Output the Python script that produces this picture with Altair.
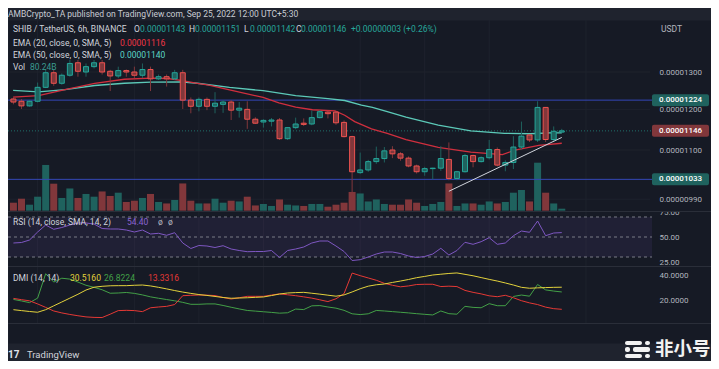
import altair as alt
import pandas as pd

FONT = "Roboto"
CJK = "Noto Sans CJK SC"

# ---------------- data (prices in units of 1e-8 USDT), 6h candles from Sep 8 06:00 ----------------
opens = [1227,1221,1209,1221,1258,1298,1269,1291,1326,1300,1315,1326,1302,1289,1304,1300,1291,1307,1281,1287,1281,1298,1224,1208,
         1226,1208,1213,1219,1198,1200,1175,1168,1170,1173,1127,1154,1165,1163,1179,1193,1193,1167,1132,1048,1054,1073,1080,
         1100,1091,1081,1063,1050,1057,1058,1078,1035,1050,1087,1073,1082,1101,1065,1071,1107,1136,1124,1205,1125,1143]
highs = [1231,1227,1224,1271,1307,1306,1296,1334,1334,1324,1334,1334,1306,1315,1307,1315,1324,1315,1293,1293,1306,1306,1231,1231,
         1231,1245,1224,1224,1219,1221,1180,1175,1178,1178,1155,1179,1177,1197,1198,1196,1196,1172,1134,1094,1077,1108,1107,
         1109,1095,1085,1066,1061,1059,1109,1118,1052,1091,1089,1085,1124,1106,1076,1133,1169,1138,1221,1205,1157,1151]
lows = [1213,1201,1207,1218,1256,1262,1265,1287,1287,1287,1310,1293,1248,1283,1287,1283,1283,1248,1278,1260,1278,1201,1190,1195,
        1198,1190,1191,1173,1179,1151,1163,1154,1157,1124,1124,1150,1158,1160,1177,1177,1161,1130,967,1045,1050,1068,1071,
        1081,1075,1060,1046,1041,1033,1052,1031,1031,1048,1060,1071,1078,1062,1051,1056,1101,1119,1119,1119,1119,1142]
closes = [1219,1209,1221,1258,1298,1269,1291,1324,1302,1315,1326,1300,1289,1304,1300,1291,1307,1281,1287,1281,1298,1224,1208,1226,
          1208,1216,1219,1198,1203,1175,1165,1172,1173,1127,1154,1163,1162,1179,1194,1189,1166,1132,1050,1054,1073,1080,1098,
          1091,1081,1063,1050,1057,1058,1080,1035,1050,1087,1073,1082,1101,1065,1071,1107,1133,1124,1205,1125,1145,1146]
volumes_b = [320,480,240,560,1830,1080,510,890,510,670,560,770,590,720,350,400,510,670,350,290,430,1090,400,290,
             290,480,320,400,370,560,210,270,190,450,240,210,190,270,270,160,240,320,750,690,370,450,270,
             240,240,450,320,190,270,350,1090,190,290,290,240,370,290,350,720,830,370,1920,720,290,80]
rsi_vals = [44,44.5,47,55,62,57.7,59.5,62,64,64,63,58.5,58,58,57,55,57,53,53.7,51.7,54.3,44,38.5,41.5,
            41,39.5,41.3,38,36.5,35.3,35.5,35.5,36.5,29.5,36.5,38,40,44,46,46,41,35.5,26.5,27.3,30,33,35,
            35,33.5,31,29.5,30.5,33,38.7,32,36.5,44.7,42.7,45.3,49.3,42.7,44,51.3,56,54.7,66,51.3,54,54.4]
dmi_yellow = [13,12.3,11.6,11,13,16,19,22,25,28.3,30.5,31.2,31.6,31.7,31.7,32,32.2,31.5,30.4,29.2,27.9,26.7,25.7,24.8,
              24.1,23.3,22.5,21.9,22.1,22.3,22.6,22.9,24,25.2,26,26.3,26.5,25.8,25.1,24.3,23.5,24.5,26.8,29.3,31.3,32.4,33,
              34.2,35.3,36.5,37.9,38.9,40,40.6,41.2,41.6,40.5,39.4,38,36.6,35.3,33.8,32.2,30.4,29.7,30,30.2,30.4,30.5]
dmi_green = [21,19.8,18.5,22,41,34.5,37.5,36.8,34.5,32,30.4,28.5,25.8,26,26.4,25.7,24.5,23,21.9,20.9,19.9,18.7,17.2,17.2,
             17.5,17.5,16.3,14.9,13.6,12.4,11.9,11.4,10.9,10.3,10.6,13.5,13.1,16,16.2,15.1,14.2,12.5,9.8,9.2,9.8,12.4,12,
             11.5,11,10.5,9.9,9.4,8.9,12,9.9,9.5,15.6,14.8,14.5,17.7,16.1,16.1,23.3,24.4,23.5,32.6,28.4,27.5,26.8]
dmi_red = [21.8,20.8,19.9,17.5,14.8,12,10.5,9.3,8.3,7.4,7.0,6.9,9.5,12.3,12.5,12.3,11.5,14.5,15.1,15.6,17,23.9,24.2,24.4,
           24.3,24,22.5,21.3,22.3,23.4,23.4,23.4,24.4,25.3,24.6,23.9,23,22,20.7,19.3,21.5,25.5,41.5,39.5,37.7,35.9,33.5,
           32,30.8,31.5,32.6,32.8,32.8,31,31.3,31,28,26.5,25.3,23.8,23.1,24.2,22.3,20,18.3,17,15,13.8,13.3]

ema20_days = [8.24,9.03,9.85,10.77,11.69,12.51,13.03,13.49,13.95,14.31,14.95,15.99,16.48,17.0,17.52,18.22,18.52,18.83,
              19.35,19.84,20.42,21.42,22.43,23.41,23.80,24.54,25.25]
ema20_vals = [1232,1236,1252,1269,1280,1283,1282,1276,1269,1264,1251,1231,1217,1206,1199,1196,1185,1169,
              1151,1140,1125,1106,1095,1089,1100,1111,1116]
ema50_days = [8.24,9.03,9.85,10.77,11.69,12.51,13.43,13.95,14.95,15.99,17.0,18.0,18.52,19.04,19.38,19.84,20.42,21.42,
              22.43,23.47,24.26,24.87,25.25]
ema50_vals = [1250,1246,1252,1263,1269,1272,1273,1269,1258,1249,1236,1228,1223,1211,1205,1194,1180,1160,
              1146,1140,1139,1141,1141]
trend_days = [21.75, 25.25]
trend_vals = [1007, 1130]
level_vals = [1224, 1033]
last_val = 1146
price_ticks = [990, 1100, 1200, 1300]
rsi_ticks = [25, 50, 75]
rsi_levels = [70, 50, 30]
dmi_ticks = [20, 40]
day_ticks = [9, 12, 14, 16, 19, 21, 23, 26]

E = 1e-8
N = len(opens)
candle_days = [8.25 + 0.25 * i for i in range(N)]

df = pd.DataFrame({
    "day": candle_days,
    "open": [v * E for v in opens],
    "high": [v * E for v in highs],
    "low": [v * E for v in lows],
    "close": [v * E for v in closes],
    "dir": ["up" if c >= o else "down" for o, c in zip(opens, closes)],
    "vol": volumes_b,
    "rsi": rsi_vals,
    "dy": dmi_yellow,
    "dg": dmi_green,
    "dr": dmi_red,
})

# ---------------- styling ----------------
OUTER = "#1f232e"
PANE = "#161a25"
GRID = "#1e222d"
SEP = "#2a2e39"
TXT = "#d1d4dc"
AX = "#b2b5be"
UP = "#26a69a"
DOWN = "#ef5350"

X = alt.Scale(domain=[8.237, 27.83], range=[0, 642], nice=False, zero=False)
PRICE = alt.Scale(type="log", domain=[990 * E, 1300 * E], range=[179.2, 52], nice=False)
VOL = alt.Scale(domain=[0, 2000], range=[190.7, 140.7], nice=False, zero=True)
RSI_S = alt.Scale(domain=[25, 75], range=[242, 192], nice=False, zero=False)
DMI_S = alt.Scale(domain=[20, 40], range=[280.7, 255], nice=False, zero=False)
CANDLE_COL = alt.Scale(domain=["up", "down"], range=[UP, DOWN])
VOL_COL = alt.Scale(domain=["up", "down"], range=["#1f625e", "#81373b"])


def yaxis(values, fmt):
    return alt.Axis(orient="right", values=values, format=fmt, offset=-61, labelPadding=9,
                    ticks=False, tickSize=0, domain=False, grid=False, labelColor=AX,
                    labelFontSize=8, labelFont=FONT, title=None)


X_AXIS = alt.Axis(orient="bottom", values=day_ticks, format="d", offset=-20, labelPadding=6,
                  ticks=False, tickSize=0, domain=False, grid=False, labelColor=AX,
                  labelFontSize=8.5, labelFont=FONT, labelFlush=False, title=None)


def xq(field):
    return alt.X(field, scale=X, axis=None)


def text(s, x, y, color=TXT, size=8.5, weight="normal", font=FONT, align="left"):
    return alt.Chart(pd.DataFrame({"t": [s]})).mark_text(
        align=align, baseline="middle", color=color, fontSize=size, fontWeight=weight, font=font
    ).encode(x=alt.value(x), y=alt.value(y), text="t:N")


def box(x1, x2, y1, y2, color, radius=0):
    return alt.Chart(pd.DataFrame({"a": [0]})).mark_rect(color=color, cornerRadius=radius).encode(
        x=alt.value(x1), x2=alt.value(x2), y=alt.value(y1), y2=alt.value(y2))


def hline(y, color, x1=0, x2=703):
    return alt.Chart(pd.DataFrame({"a": [0]})).mark_rule(color=color, strokeWidth=1).encode(
        x=alt.value(x1), x2=alt.value(x2), y=alt.value(y))


layers = []

# grid
layers.append(alt.Chart(pd.DataFrame({"d": day_ticks})).mark_rule(color=GRID).encode(
    x=xq("d:Q"), y=alt.value(0), y2=alt.value(303)))
layers.append(alt.Chart(pd.DataFrame({"p": [v * E for v in price_ticks]})).mark_rule(color=GRID).encode(
    y=alt.Y("p:Q", scale=PRICE, axis=None), x=alt.value(0), x2=alt.value(642)))

# RSI band and levels
layers.append(alt.Chart(pd.DataFrame({"hi": [rsi_levels[0]], "lo": [rsi_levels[-1]]})).mark_rect(
    color="#7e57c2", opacity=0.1).encode(
    y=alt.Y("hi:Q", scale=RSI_S, axis=None), y2="lo:Q", x=alt.value(0), x2=alt.value(644)))
layers.append(alt.Chart(pd.DataFrame({"v": rsi_levels})).mark_rule(
    color="#787b86", strokeDash=[3, 3], strokeWidth=1).encode(
    y=alt.Y("v:Q", scale=RSI_S, axis=None), x=alt.value(0), x2=alt.value(644)))

# volume
layers.append(alt.Chart(df).mark_bar(size=7).encode(
    x=xq("day:Q"), y=alt.Y("vol:Q", scale=VOL, axis=None),
    color=alt.Color("dir:N", scale=VOL_COL, legend=None)))

# horizontal levels and last price line
layers.append(alt.Chart(pd.DataFrame({"v": [v * E for v in level_vals]})).mark_rule(
    color="#3447b8", strokeWidth=1).encode(
    y=alt.Y("v:Q", scale=PRICE, axis=None), x=alt.value(0), x2=alt.value(644)))
layers.append(alt.Chart(pd.DataFrame({"v": [last_val * E]})).mark_rule(
    color=UP, strokeDash=[1, 2], opacity=0.6).encode(
    y=alt.Y("v:Q", scale=PRICE, axis=None), x=alt.value(0), x2=alt.value(644)))

# EMAs
layers.append(alt.Chart(pd.DataFrame({"d": ema50_days, "v": [v * E for v in ema50_vals]})).mark_line(
    color="#5cc9b8", strokeWidth=1.3).encode(x=xq("d:Q"), y=alt.Y("v:Q", scale=PRICE, axis=None)))
layers.append(alt.Chart(pd.DataFrame({"d": ema20_days, "v": [v * E for v in ema20_vals]})).mark_line(
    color="#d02f3e", strokeWidth=1.3).encode(x=xq("d:Q"), y=alt.Y("v:Q", scale=PRICE, axis=None)))

# candles
layers.append(alt.Chart(df).mark_rule(strokeWidth=1).encode(
    x=xq("day:Q"), y=alt.Y("low:Q", scale=PRICE, axis=None), y2="high:Q",
    color=alt.Color("dir:N", scale=CANDLE_COL, legend=None)))
layers.append(alt.Chart(df).mark_bar(size=5, strokeWidth=1).encode(
    x=alt.X("day:Q", scale=X, axis=X_AXIS),
    y=alt.Y("open:Q", scale=PRICE, axis=yaxis([v * E for v in price_ticks], ".8f")), y2="close:Q",
    color=alt.Color("dir:N", scale=CANDLE_COL, legend=None),
    stroke=alt.Stroke("dir:N", scale=CANDLE_COL, legend=None)))

# trend line
layers.append(alt.Chart(pd.DataFrame({"d": trend_days, "v": [v * E for v in trend_vals]})).mark_line(
    color="#d1d4dc", strokeWidth=1).encode(x=xq("d:Q"), y=alt.Y("v:Q", scale=PRICE, axis=None)))

# RSI line
layers.append(alt.Chart(df).mark_line(color="#7e57c2", strokeWidth=1).encode(
    x=xq("day:Q"), y=alt.Y("rsi:Q", scale=RSI_S, axis=yaxis(rsi_ticks, ".2f"))))

# DMI lines
layers.append(alt.Chart(df).mark_line(color="#43a047", strokeWidth=1).encode(
    x=xq("day:Q"), y=alt.Y("dg:Q", scale=DMI_S, axis=None)))
layers.append(alt.Chart(df).mark_line(color="#e53935", strokeWidth=1).encode(
    x=xq("day:Q"), y=alt.Y("dr:Q", scale=DMI_S, axis=None)))
layers.append(alt.Chart(df).mark_line(color="#e3d23c", strokeWidth=1).encode(
    x=xq("day:Q"), y=alt.Y("dy:Q", scale=DMI_S, axis=yaxis(dmi_ticks, ".4f"))))

# pane separators and cover for the clipped RSI label
layers.append(box(642, 703, 184, 191, PANE))
layers.append(hline(191.5, SEP))
layers.append(hline(246.5, SEP))
layers.append(hline(303.5, SEP))

# price badges
badges = pd.DataFrame({
    "v": [level_vals[0] * E, last_val * E, level_vals[1] * E],
    "label": ["%.8f" % (level_vals[0] * E), "%.8f" % (last_val * E), "%.8f" % (level_vals[1] * E)],
    "kind": ["level", "last", "level"],
})
BADGE_COL = alt.Scale(domain=["level", "last"], range=["#1f55dc", "#26a69a"])
layers.append(alt.Chart(badges).mark_rect(yOffset=-6, y2Offset=6, cornerRadius=2).encode(
    y=alt.Y("v:Q", scale=PRICE, axis=None), y2="v:Q", x=alt.value(644), x2=alt.value(701),
    color=alt.Color("kind:N", scale=BADGE_COL, legend=None)))
layers.append(alt.Chart(badges).mark_text(align="center", baseline="middle", color="#ffffff",
                                          fontSize=8, font=FONT, fontWeight=500).encode(
    y=alt.Y("v:Q", scale=PRICE, axis=None), x=alt.value(672.5), text="label:N"))

# legends / titles
layers += [
    text("AMBCrypto_TA published on TradingView.com, Sep 25, 2022 12:00 UTC+5:30", 0, -6.5, color="#c9ccd3"),
    text("SHIB / TetherUS, 6h, BINANCE", 5, 9),
    text("O", 126, 9), text("0.00001143", 132, 9, color=UP),
    text("H", 181, 9), text("0.00001151", 187, 9, color=UP),
    text("L", 236, 9), text("0.00001142", 242, 9, color=UP),
    text("C", 288, 9), text("0.00001146", 293, 9, color=UP),
    text("+0.00000003 (+0.26%)", 343, 9, color=UP),
    text("EMA (20, close, 0, SMA, 5)", 5, 23), text("0.00001116", 112, 23, color="#f23645"),
    text("EMA (50, close, 0, SMA, 5)", 5, 35), text("0.00001140", 112, 35, color="#5cd6c6"),
    text("Vol", 5, 47), text("80.24B", 22, 47, color="#3a9a90"),
    text("RSI (14, close, SMA, 14, 2)", 5, 202), text("54.40", 119, 202, color="#8a63d2"),
    text("ø", 150, 202, color=AX), text("ø", 160, 202, color=AX),
    text("DMI (14, 14)", 5, 258), text("30.5160", 62, 258, color="#e3d23c"),
    text("26.8224", 96, 258, color="#43a047"), text("13.3316", 140, 258, color="#e53935"),
    text("USDT", 653, 9, color=AX),
    text("17", 0, 335, color="#e0e3eb", size=10, weight="bold"),
    text("TradingView", 19, 335, color=TXT, size=9.5),
    text("非小号", 647, 329, color="#f2f2f2", size=18.5, weight="bold", font=CJK),
]
# watermark icon
layers += [
    box(617, 634, 321, 325, "#f2f2f2", 2), box(637, 642, 321, 325, "#f2f2f2", 2),
    box(617, 622, 327, 332, "#f2f2f2", 2), box(625, 642, 327, 332, "#f2f2f2", 2),
    box(617, 634, 334, 338, "#f2f2f2", 2), box(637, 642, 334, 338, "#f2f2f2", 2),
]

chart = alt.layer(*layers).resolve_scale(y="independent").properties(
    width=703, height=323,
    padding={"left": 0, "top": 12, "right": 0, "bottom": 18},
    autosize=alt.AutoSizeParams(type="none"),
).configure(background=OUTER).configure_view(fill=PANE, stroke="transparent")

chart.save("out.html", embed_options={"renderer": "svg", "actions": False})
